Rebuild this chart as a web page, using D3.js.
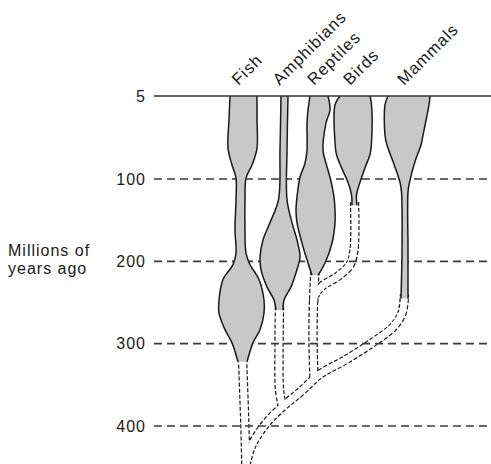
<!DOCTYPE html>
<html><head><meta charset="utf-8">
<script src="https://cdn.jsdelivr.net/npm/d3@7"></script>
<style>
html,body{margin:0;padding:0;background:#fff;}
text{font-family:"Liberation Sans",Arial,sans-serif;}
</style></head>
<body>
<svg id="chart" width="491" height="464"></svg>
<script>
// ---- data ----
const groups = ["Fish", "Amphibians", "Reptiles", "Birds", "Mammals"];
const tickValues = [5, 100, 200, 300, 400];
const tickLabels = ["5", "100", "200", "300", "400"];
const axisTitle = ["Millions of", "years ago"];

// spindles: [millions of years ago, left extent, right extent] (horizontal units)
const fishSpindle = [[5,80,107],[32,79,107],[65,78,107],[84,82,102],[99,86,96],[125,86,95],[162,85,95],[190,86,96],[204,83,100],[222,73,109],[247,69,114],[263,69,114],[283,75,110],[299,82,103],[322,88,97]];
const amphibianSpindle = [[5,131,138],[67,130,137],[125,128.5,137],[153,120,142],[174,113,147],[195,110,150],[210,111,147],[231,117,141],[247,124,134],[259,126,133]];
const reptileSpindle = [[5,160,178],[21,158,180],[36,157,176],[67,157,173],[82,155,176],[98,150,180],[122,147,184],[138,146,185],[153,147,185],[178,152,182],[202,158,175],[217,162,168]];
const birdSpindle = [[5,190,220],[15,185,221.5],[58,185,221.5],[72,186.5,220],[87,191.5,215],[104,198,210],[119,201.5,206.5],[132,202,207]];
const mammalSpindle = [[5,238,280],[15,235,279],[50,235,273],[61,237,271],[80,243,265],[104,250,259.5],[116,251.5,258],[186,252,258],[245,251,258]];
const spindles = [fishSpindle, amphibianSpindle, reptileSpindle, birdSpindle, mammalSpindle];

// ancestral lineages (centre line): [horizontal position, millions of years ago]
const fishLineage = [[92.5,318],[94,368],[95,405],[96,455]];
const tetrapodLineage = [[96,447],[100,429],[105,416],[118,394],[135,374],[150,359],[170,337],[195,320],[221,300],[243,280],[252,263],[254.5,240]];
const amphibianLineage = [[129.5,255],[129,308],[129.5,356],[132,374]];
const reptileLineage = [[165,212],[163.5,247],[163,296],[164,342]];
const birdLineage = [[204.5,128],[204,186],[200,204],[188,218],[172,230],[165,241],[163.5,253]];
const lineages = [fishLineage, tetrapodLineage, amphibianLineage, reptileLineage, birdLineage];

// ---- drawing ----
const svg = d3.select("#chart");
const W = 491, H = 464;
const x = d3.scaleLinear().domain([0, 341]).range([150, 491]);
const y = d3.scaleLinear().domain([5, 100, 400]).range([96, 179, 426]);
const lineLeft = 154;

// lineages: dark dashed wide stroke, then white core -> double dashed lines
const lin = d3.line().x(d => x(d[0])).y(d => y(d[1])).curve(d3.curveCatmullRom.alpha(0.5));
const gL = svg.append("g");
gL.selectAll("path.outer").data(lineages).join("path")
  .attr("class","outer").attr("d", lin).attr("fill","none")
  .attr("stroke","#1a1a1a").attr("stroke-width",9.4).attr("stroke-dasharray","4,2");
gL.selectAll("path.inner").data(lineages).join("path")
  .attr("class","inner").attr("d", lin).attr("fill","none")
  .attr("stroke","#fff").attr("stroke-width",7);

// grid lines
svg.append("g").selectAll("line").data(tickValues.slice(1)).join("line")
  .attr("x1", lineLeft).attr("x2", W)
  .attr("y1", d => y(d)).attr("y2", d => y(d))
  .attr("stroke","#3a3a3a").attr("stroke-width",1.6).attr("stroke-dasharray","8,5");

// spindles
const area = d3.area().y(d => y(d[0])).x0(d => x(d[1])).x1(d => x(d[2])).curve(d3.curveCatmullRom.alpha(0.5));
const edgeL = d3.line().y(d => y(d[0])).x(d => x(d[1])).curve(d3.curveCatmullRom.alpha(0.5));
const edgeR = d3.line().y(d => y(d[0])).x(d => x(d[2])).curve(d3.curveCatmullRom.alpha(0.5));
const gS = svg.append("g").selectAll("g").data(spindles).join("g");
gS.append("path").attr("d", area).attr("fill","#c8c8c8").attr("stroke","none");
gS.append("path").attr("d", edgeL).attr("fill","none").attr("stroke","#1a1a1a").attr("stroke-width",1.5);
gS.append("path").attr("d", edgeR).attr("fill","none").attr("stroke","#1a1a1a").attr("stroke-width",1.5);

// top (present) line
svg.append("line").attr("x1", lineLeft).attr("x2", W)
  .attr("y1", y(tickValues[0])).attr("y2", y(tickValues[0]))
  .attr("stroke","#333").attr("stroke-width",1.3);

// axis labels
const axis = d3.axisLeft(y).tickValues(tickValues).tickSize(0).tickPadding(8)
  .tickFormat((d,i) => tickLabels[i]);
const gA = svg.append("g").attr("transform", `translate(${lineLeft},0)`).call(axis);
gA.select(".domain").remove();
gA.selectAll("text").attr("font-size",16).attr("fill","#1a1a1a")
  .attr("font-family","Liberation Sans, Arial, sans-serif").attr("letter-spacing","1px");

svg.append("text").attr("x", 8).attr("y", 256)
  .attr("font-size",16).attr("fill","#1a1a1a").attr("letter-spacing","1px")
  .selectAll("tspan").data(axisTitle).join("tspan")
  .attr("x", 8).attr("dy", (d,i) => i ? 18 : 0).text(d => d);

// group labels, rotated, at each spindle's top centre
svg.append("g").selectAll("text").data(groups).join("text")
  .attr("transform", (d,i) => {
    const top = spindles[i][0];
    const cx = x((top[1] + top[2]) / 2);
    return `translate(${cx - 5},${y(tickValues[0]) - 10}) rotate(-45)`;
  })
  .attr("font-size",16.5).attr("fill","#1a1a1a").attr("letter-spacing","1px")
  .text(d => d);
</script>
</body></html>
